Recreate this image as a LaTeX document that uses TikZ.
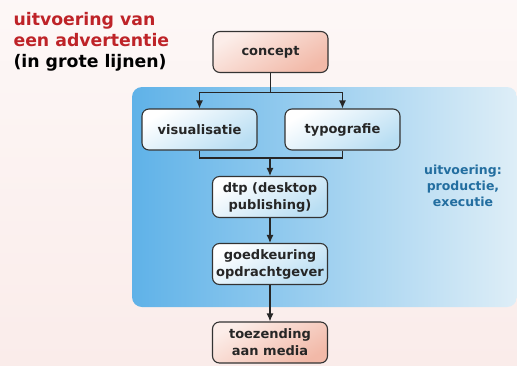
\documentclass[tikz,border=0pt]{standalone}
\usepackage{fontspec}
\setmainfont{DejaVu Sans}
\usepackage{tikz}
\usetikzlibrary{positioning,arrows.meta}

\definecolor{titlered}{RGB}{190,35,40}
\definecolor{noteblue}{RGB}{35,110,160}
\definecolor{salmon}{RGB}{242,185,168}
\definecolor{paleblue}{RGB}{185,222,243}
\definecolor{panelleft}{RGB}{95,178,232}
\definecolor{panelright}{RGB}{222,238,247}
\definecolor{bgpink}{RGB}{250,236,234}

\tikzset{
  stage/.style={draw=black!80,line width=1.1pt,rounded corners=7pt,
    minimum width=115pt,minimum height=41pt,inner sep=0pt,align=center,
    font=\bfseries\fontsize{13}{17}\selectfont,text=black!85},
  outer/.style={stage,top color=salmon!25,bottom color=salmon,shading angle=30},
  inner/.style={stage,top color=white,bottom color=paleblue,shading angle=30},
  flow/.style={line width=1.2pt,black!85},
}

\begin{document}
\begin{tikzpicture}[x=1pt,y=-1pt,>={Latex[length=8pt,width=7pt]}]
\useasboundingbox (0,0) rectangle (517,365);
\fill[top color=white!60!bgpink,bottom color=bgpink] (0,0) rectangle (517,365);
\shade[left color=panelleft,right color=panelright,rounded corners=10pt]
  (132,87) rectangle (517,307);

\node[anchor=north west,align=left,font=\bfseries\fontsize{17.3}{21}\selectfont]
  (title) at (10,9) {\textcolor{titlered}{uitvoering van}\\
  \textcolor{titlered}{een advertentie}\\(in grote lijnen)};

\node [outer] (concept) at (270.5,52) {concept};
\node [inner] (visualisatie) at (199.5,129.5) {visualisatie};
\node [inner] (typografie) at (342.5,129.5) {typografie};
\node [inner] (dtp) at (270,197) {dtp (desktop\\publishing)};
\node [inner] (goedkeuring) at (270,264) {goedkeuring\\opdrachtgever};
\node [outer] (toezending) at (270,342.5) {toezending\\aan media};

\node [align=center,text=noteblue,font=\bfseries\fontsize{12.5}{16}\selectfont]
  (uitvoering) at (463,186) {uitvoering:\\productie,\\executie};

\coordinate (split) at (270.5,92.5);
\coordinate (merge) at (270,158);

\draw[flow] (concept) -- (split);
\draw[flow,->] (split) -| (visualisatie);
\draw[flow,->] (split) -| (typografie);
\draw[flow] (visualisatie) |- (merge);
\draw[flow] (typografie) |- (merge);
\draw[flow,->] (merge) -- (dtp);
\draw[flow,->] (dtp) -- (goedkeuring);
\draw[flow,->] (goedkeuring) -- (toezending);
\end{tikzpicture}
\end{document}
